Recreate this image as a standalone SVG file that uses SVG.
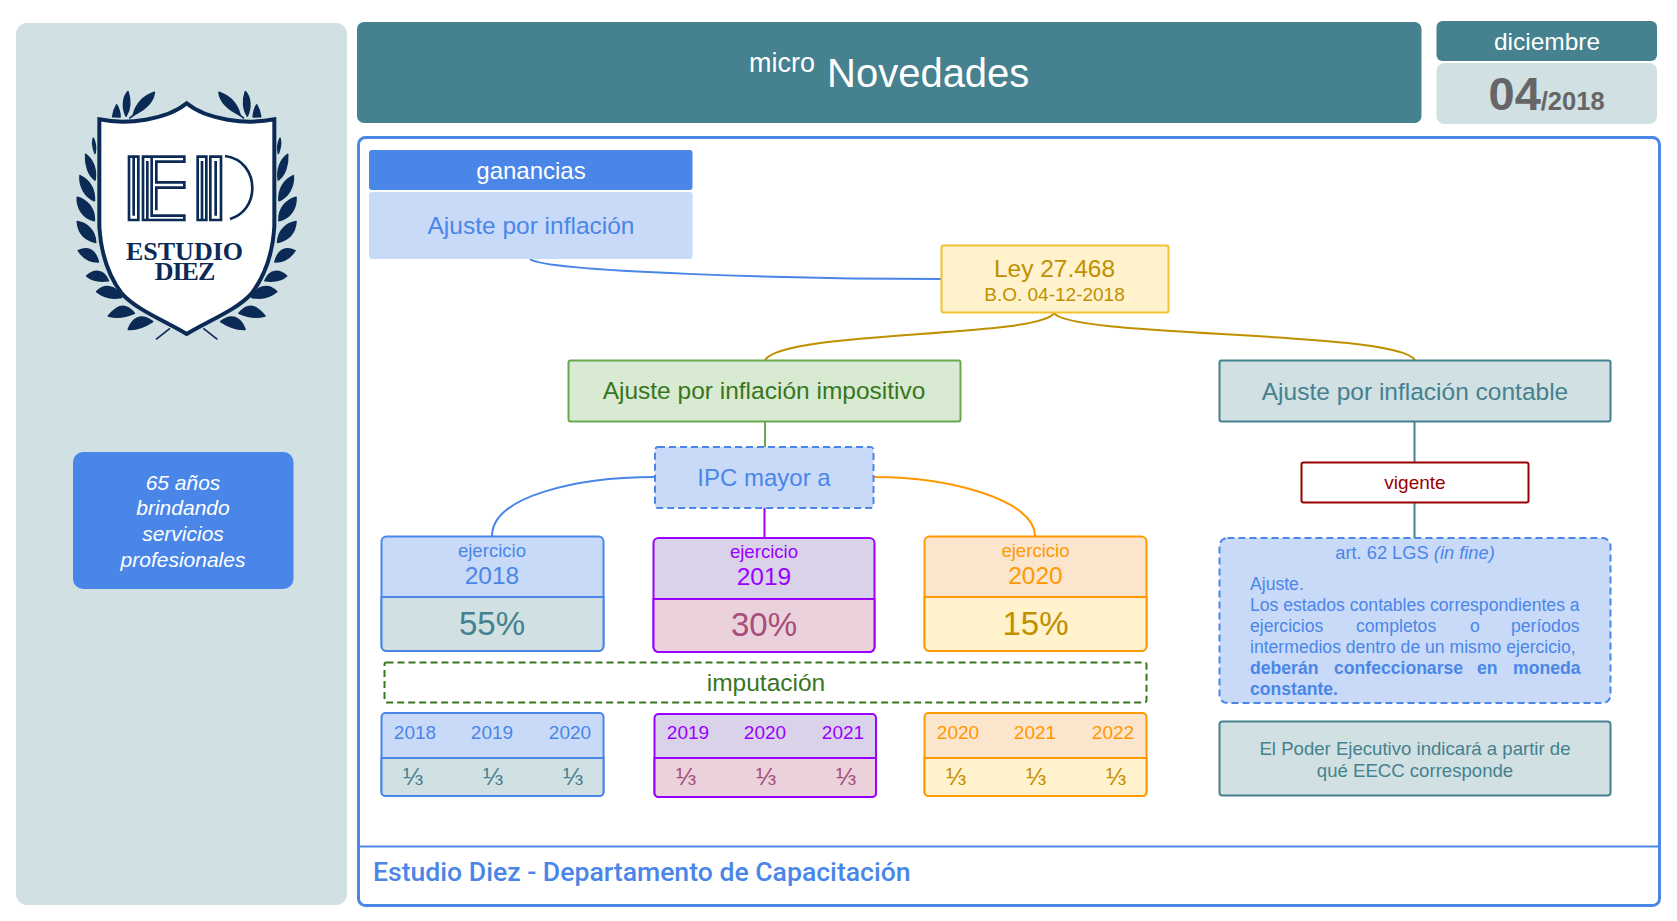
<svg xmlns="http://www.w3.org/2000/svg" width="1677" height="921" viewBox="0 0 1677 921">
<style>
text{font-family:"Liberation Sans",Arial,sans-serif;text-anchor:middle}
.s18{font-size:18.600px}.s19{font-size:19px}.s24{font-size:24.500px}.s31{font-size:33px}
.bl{fill:#4a86e8}.te{fill:#45818e}.pu{fill:#9900ff}.pk{fill:#a64d79}.or{fill:#ff9900}.go{fill:#bf9000}.gr{fill:#38761d}
.c{fill:none;stroke-width:2}
.leaf{fill:#0b2a55;stroke:#0b2a55;stroke-width:5;stroke-linejoin:round}
.mono{fill:none;stroke:#0b2a55;stroke-width:8}
</style>
<defs>
<g id="leaves">
<path class="leaf" d="M218,170C220,155 224,145 230,135C236,145 240,158 240,171Z"/>
<path class="leaf" d="M258,168C245,140 250,110 264,95C272,120 272,145 258,168Z"/>
<path class="leaf" d="M280,165C290,125 320,105 343,97C340,125 315,150 280,165Z"/>
<path d="M268,175L285,162M348,838L390,805" stroke="#0b2a55" stroke-width="5" fill="none"/>
<path class="leaf" d="M160,235C156,250 160,268 165,280C168,265 166,248 160,235Z"/>
<path class="leaf" d="M137,283C160,300 170,330 165,360C145,345 135,315 137,283Z"/>
<path class="leaf" d="M120,347C150,360 165,390 163,422C135,410 118,380 120,347Z"/>
<path class="leaf" d="M112,412C140,420 165,445 163,482C130,475 110,445 112,412Z"/>
<path class="leaf" d="M112,485C140,490 165,510 167,547C135,540 115,520 112,485Z"/>
<path class="leaf" d="M115,572C140,560 165,565 175,606C150,606 130,595 115,572Z"/>
<path class="leaf" d="M140,648C160,630 190,625 205,662C180,665 155,662 140,648Z"/>
<path class="leaf" d="M170,695C190,675 225,670 245,712C215,718 190,712 170,695Z"/>
<path class="leaf" d="M205,768C225,745 250,720 283,760C255,772 230,775 205,768Z"/>
<path class="leaf" d="M265,808C275,780 300,755 338,785C315,800 290,810 265,808Z"/>
</g>
</defs>
<rect width="1677" height="921" fill="#fff"/>

<g id="sidebar">
<rect x="16" y="23" width="331" height="882" rx="11" fill="#d0e0e3"/>
</g>
<g id="logo">
<g transform="translate(40,60) scale(.33333)">
<use href="#leaves"/>
<use href="#leaves" transform="translate(880,0) scale(-1,1)"/>
<path d="M178,178C260,195 380,180 440,130C500,180 620,195 703,178L703,500C699,570 680,640 635,700C590,750 510,780 440,822C370,780 290,750 245,700C200,640 182,570 178,500Z" fill="#fff" stroke="#0b2a55" stroke-width="12"/>
</g>
<g transform="translate(115,145) scale(.33333)">
<path class="mono" d="M42,225V35H70V225ZM56,35V212M84,225V35H110V212H208V225ZM97,48V225M110,35H208V50H124V112H208V128H124V196"/>
<path class="mono" d="M248,225V35H274V225ZM261,48V225M286,225V35H318V225ZM302,48V212M330,33C385,40 412,85 412,130C412,175 385,210 345,222"/>
</g>
<text x="184.500" y="260" font-size="26" font-weight="bold" fill="#0b2a55" style="font-family:'Liberation Serif',serif">ESTUDIO</text>
<text x="184.500" y="280" font-size="26" font-weight="bold" fill="#0b2a55" letter-spacing="-1" style="font-family:'Liberation Serif',serif">DIEZ</text>
</g>
<g id="anios">
<rect x="73" y="452" width="220.500" height="137" rx="10" fill="#4a86e8"/>
<g font-size="21" font-style="italic" fill="#fff">
<text x="183" y="489.500">65 años</text><text x="183" y="515">brindando</text><text x="183" y="541">servicios</text><text x="183" y="567">profesionales</text>
</g>
</g>
<g id="header">
<rect x="357" y="22" width="1064.500" height="101" rx="7" fill="#45818e"/>
<text x="749" y="72" font-size="27" fill="#fff" style="text-anchor:start">micro</text>
<text x="827" y="87" font-size="40" fill="#fff" style="text-anchor:start">Novedades</text>
</g>
<g id="mes">
<rect x="1436.500" y="21" width="220.500" height="40" rx="6" fill="#45818e"/>
<text x="1547" y="49.500" class="s24" fill="#fff">diciembre</text>
</g>
<g id="fecha">
<rect x="1436.500" y="63" width="220.500" height="61" rx="8" fill="#d0e0e3"/>
<text x="1488.500" y="110" font-weight="bold" fill="#666" font-size="47" style="text-anchor:start">04<tspan font-size="25.500">/2018</tspan></text>
</g>
<g id="marco">
<rect x="358.500" y="137.500" width="1301" height="768" rx="7" fill="#fff" stroke="#4a86e8" stroke-width="3"/>
<path d="M358,846.500H1659" stroke="#4a86e8" stroke-width="2"/>
<text x="373" y="881" font-size="26.600" font-weight="500" class="bl" style="font-family:Roboto,sans-serif;text-anchor:start">Estudio Diez - Departamento de Capacitación</text>
</g>

<g id="connectors">
<path class="c" stroke="#4a86e8" d="M530,259C545,272 800,279 941,279"/>
<path class="c" stroke="#bf9000" d="M1054,313C1040,338 785,330 765,360"/>
<path class="c" stroke="#bf9000" d="M1054,313C1070,338 1395,330 1415,360"/>
<path class="c" stroke="#6aa84f" d="M765,421V447"/>
<path class="c" stroke="#4a86e8" d="M655,477C575,477 492,497 492,536"/>
<path class="c" stroke="#ff9900" d="M874,477C950,477 1035,500 1035,536"/>
<path class="c" stroke="#9900ff" d="M764.500,508V537"/>
<path class="c" stroke="#45818e" d="M1414.500,422V462M1414.500,503V538"/>
</g>

<g id="ganancias">
<rect x="369" y="150" width="323.500" height="40" rx="3" fill="#4a86e8"/>
<text x="531" y="179" font-size="24" fill="#fff">ganancias</text>
</g>
<g id="ajuste">
<rect x="369" y="192" width="323.500" height="67" rx="3" fill="#c9daf8"/>
<text x="531" y="234" class="s24 bl">Ajuste por inflación</text>
</g>
<g id="ley">
<rect x="941.500" y="245.500" width="227" height="67" rx="2" fill="#fff2cc" stroke="#f1c232" stroke-width="2"/>
<text x="1054.500" y="277" class="s24 go">Ley 27.468</text>
<text x="1054.500" y="301" class="s19 go">B.O. 04-12-2018</text>
</g>
<g id="impositivo">
<rect x="568.500" y="360.500" width="392" height="61" rx="2" fill="#d9ead3" stroke="#6aa84f" stroke-width="2"/>
<text x="764" y="399" class="s24 gr">Ajuste por inflación impositivo</text>
</g>
<g id="contable">
<rect x="1219.500" y="360.500" width="391" height="61" rx="2" fill="#d0e0e3" stroke="#45818e" stroke-width="2"/>
<text x="1415" y="400" class="s24 te">Ajuste por inflación contable</text>
</g>
<g id="ipc">
<rect x="655" y="447" width="218.500" height="61" rx="3" fill="#c9daf8" stroke="#4a86e8" stroke-width="2" stroke-dasharray="7 4"/>
<text x="764" y="486" class="bl" font-size="24">IPC mayor a</text>
</g>
<g id="vigente">
<rect x="1301.500" y="462.500" width="227" height="40" rx="2" fill="#fff" stroke="#990000" stroke-width="2"/>
<text x="1415" y="489" class="s19" fill="#990000">vigente</text>
</g>
<g id="art62">
<rect x="1219.500" y="538" width="391" height="165" rx="8" fill="#c9daf8" stroke="#4a86e8" stroke-width="2" stroke-dasharray="7 4"/>
<text x="1415" y="559" font-size="18.300" class="bl">art. 62 LGS <tspan font-style="italic">(in fine)</tspan></text>
<g font-size="17.600" class="bl">
<text x="1250" y="590" style="text-anchor:start">Ajuste.</text>
<text x="1250" y="611" style="text-anchor:start">Los estados contables correspondientes a</text>
<text y="632" style="text-anchor:start"><tspan x="1250">ejercicios</tspan><tspan x="1356">completos</tspan><tspan x="1470">o</tspan><tspan x="1511">períodos</tspan></text>
<text x="1250" y="653" style="text-anchor:start">intermedios dentro de un mismo ejercicio,</text>
<text y="674" font-weight="bold" style="text-anchor:start"><tspan x="1250">deberán</tspan><tspan x="1334">confeccionarse</tspan><tspan x="1477">en</tspan><tspan x="1513">moneda</tspan></text>
<text x="1250" y="695" font-weight="bold" style="text-anchor:start">constante.</text>
</g>
</g>
<g id="poder">
<rect x="1219.500" y="721.500" width="391" height="74" rx="3" fill="#d0e0e3" stroke="#45818e" stroke-width="2"/>
<text x="1415" y="755" class="s18 te">El Poder Ejecutivo indicará a partir de</text>
<text x="1415" y="777" class="s18 te">qué EECC corresponde</text>
</g>

<g id="ej2018">
<rect x="381.500" y="536.500" width="222" height="114.500" rx="5" fill="#c9daf8" stroke="#4a86e8" stroke-width="2"/>
<path d="M381.500,597H603.500V646a5,5 0 0 1 -5,5H386.500a5,5 0 0 1 -5,-5Z" fill="#d0e0e3" stroke="#4a86e8" stroke-width="2"/>
<text x="492" y="557" class="s18 bl">ejercicio</text><text x="492" y="584" class="s24 bl">2018</text><text x="492" y="635" class="s31 te">55%</text>
</g>
<g id="ej2019">
<rect x="653.500" y="538" width="221" height="114" rx="5" fill="#d9d2e9" stroke="#9900ff" stroke-width="2"/>
<path d="M653.500,599H874.500V647a5,5 0 0 1 -5,5H658.500a5,5 0 0 1 -5,-5Z" fill="#ead1dc" stroke="#9900ff" stroke-width="2"/>
<text x="764" y="558" class="s18 pu">ejercicio</text><text x="764" y="585" class="s24 pu">2019</text><text x="764" y="636" class="s31 pk">30%</text>
</g>
<g id="ej2020">
<rect x="924.500" y="536.500" width="222" height="114.500" rx="5" fill="#fce5cd" stroke="#ff9900" stroke-width="2"/>
<path d="M924.500,597H1146.500V646a5,5 0 0 1 -5,5H929.500a5,5 0 0 1 -5,-5Z" fill="#fff2cc" stroke="#ff9900" stroke-width="2"/>
<text x="1035.500" y="557" class="s18 or">ejercicio</text><text x="1035.500" y="584" class="s24 or">2020</text><text x="1035.500" y="635" class="s31 go">15%</text>
</g>
<g id="imputacion">
<rect x="384.500" y="662.500" width="762" height="40" rx="2" fill="#fff" stroke="#38761d" stroke-width="2" stroke-dasharray="7 4"/>
<text x="766" y="691" class="s24 gr">imputación</text>
</g>
<g id="imp2018">
<rect x="381.500" y="713" width="222" height="83" rx="4" fill="#c9daf8" stroke="#4a86e8" stroke-width="2"/>
<path d="M381.500,758H603.500V792a4,4 0 0 1 -4,4H385.500a4,4 0 0 1 -4,-4Z" fill="#d0e0e3" stroke="#4a86e8" stroke-width="2"/>
<g class="s19 bl"><text x="415" y="739">2018</text><text x="492" y="739">2019</text><text x="570" y="739">2020</text></g>
<g class="s24 te"><text x="413" y="785">⅓</text><text x="493" y="785">⅓</text><text x="573" y="785">⅓</text></g>
</g>
<g id="imp2019">
<rect x="654.500" y="714" width="221.500" height="83" rx="4" fill="#d9d2e9" stroke="#9900ff" stroke-width="2"/>
<path d="M654.500,758H876V793a4,4 0 0 1 -4,4H658.500a4,4 0 0 1 -4,-4Z" fill="#ead1dc" stroke="#9900ff" stroke-width="2"/>
<g class="s19 pu"><text x="688" y="739">2019</text><text x="765" y="739">2020</text><text x="843" y="739">2021</text></g>
<g class="s24 pk"><text x="686" y="785">⅓</text><text x="766" y="785">⅓</text><text x="846" y="785">⅓</text></g>
</g>
<g id="imp2020">
<rect x="924.500" y="713" width="222" height="83" rx="4" fill="#fce5cd" stroke="#ff9900" stroke-width="2"/>
<path d="M924.500,758H1146.500V792a4,4 0 0 1 -4,4H928.500a4,4 0 0 1 -4,-4Z" fill="#fff2cc" stroke="#ff9900" stroke-width="2"/>
<g class="s19 or"><text x="958" y="739">2020</text><text x="1035" y="739">2021</text><text x="1113" y="739">2022</text></g>
<g class="s24 go"><text x="956" y="785">⅓</text><text x="1036" y="785">⅓</text><text x="1116" y="785">⅓</text></g>
</g>
</svg>
